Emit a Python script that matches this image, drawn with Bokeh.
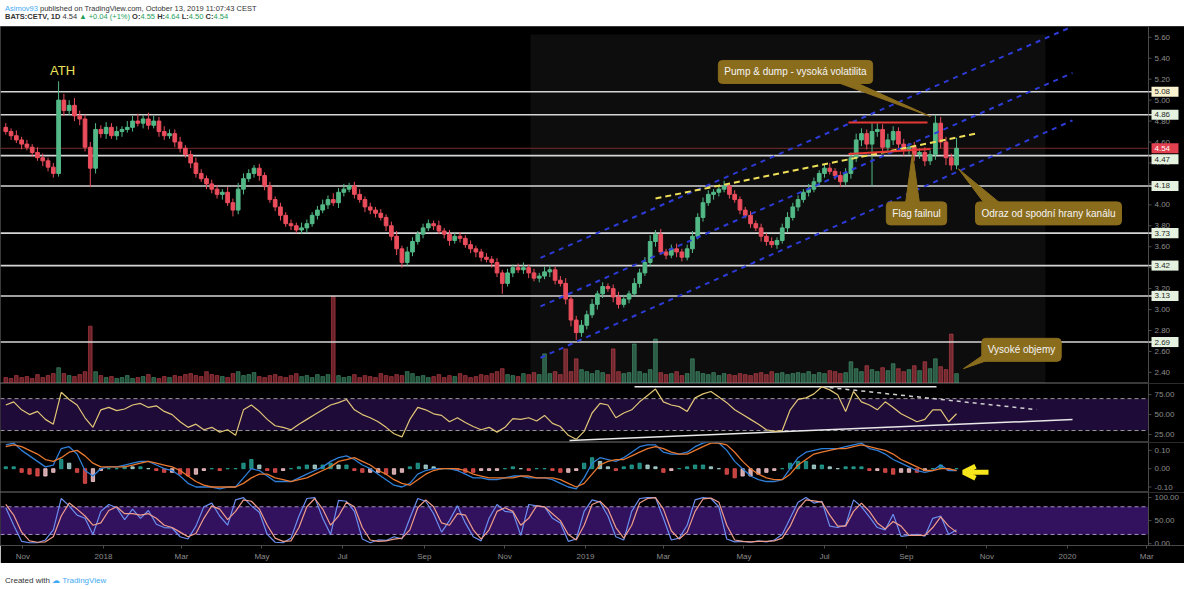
import numpy as np
import pandas as pd
from bokeh.plotting import figure
from bokeh.layouts import column
from bokeh.models import (Range1d, FixedTicker, BoxAnnotation, Label, Arrow, OpenHead, Div,
                          ColumnDataSource)
from bokeh.core.properties import value
from bokeh.embed import file_html
from bokeh.resources import INLINE

# ---------------- data ----------------
PRICE_START = "2017-10-19"   # candles every 4 calendar days
FIRST_OPEN = 4.74
CLOSE = [4.70,4.66,4.62,4.58,4.55,4.50,4.45,4.42,4.36,4.30,
         5.00,4.90,4.95,4.85,4.82,4.55,4.35,4.72,4.68,4.74,
         4.66,4.70,4.72,4.74,4.80,4.78,4.82,4.76,4.80,4.70,
         4.66,4.68,4.60,4.54,4.48,4.40,4.30,4.25,4.20,4.15,
         4.10,4.12,4.02,3.95,4.15,4.25,4.30,4.35,4.28,4.18,
         4.05,3.98,3.90,3.82,3.80,3.76,3.78,3.82,3.90,3.95,
         4.00,4.05,4.02,4.12,4.15,4.18,4.10,4.05,3.98,3.95,
         3.92,3.88,3.80,3.70,3.58,3.45,3.55,3.65,3.72,3.78,
         3.82,3.80,3.75,3.72,3.66,3.70,3.68,3.62,3.58,3.55,
         3.50,3.48,3.45,3.35,3.25,3.35,3.40,3.38,3.40,3.35,
         3.30,3.32,3.36,3.38,3.28,3.25,3.10,2.90,2.78,2.85,
         2.95,3.05,3.15,3.22,3.20,3.12,3.05,3.10,3.15,3.25,
         3.35,3.45,3.65,3.72,3.55,3.52,3.58,3.55,3.50,3.58,
         3.70,3.88,4.02,4.10,4.12,4.15,4.18,4.10,4.05,3.95,
         3.90,3.82,3.78,3.70,3.65,3.62,3.66,3.78,3.88,3.98,
         4.05,4.12,4.15,4.22,4.30,4.35,4.32,4.28,4.22,4.30,
         4.45,4.62,4.68,4.58,4.70,4.72,4.55,4.62,4.70,4.58,
         4.52,4.55,4.48,4.50,4.42,4.48,4.78,4.60,4.45,4.38,
         4.54]
WICK_HI = [4,3,5,3,4,3,5,4,3,4, 18,6,5,7,5,4,5,6,4,5, 4,5,3,6,5,7,4,6,5,4,
           5,4,4,5,3,4,5,4,3,4, 4,3,5,4,6,5,4,3,4,3, 4,3,4,3,4,3,5,4,3,4,
           5,4,6,4,5,3,4,5,3,4, 3,4,3,4,5,3,5,4,3,4, 4,3,5,3,4,3,4,3,4,3,
           3,4,3,4,3,4,3,4,5,3, 4,3,5,4,3,4,5,3,4,5, 4,5,3,4,3,4,5,4,3,5,
           4,5,6,4,5,3,4,5,3,4, 5,4,5,4,3,4,5,3,4,3, 3,4,3,4,3,4,3,4,5,4,
           4,3,5,4,3,4,5,3,4,5, 5,6,5,4,8,6,5,6,5,4, 5,4,5,4,5,4,8,6,5,4,
           10]
WICK_LO = [3,4,3,5,3,4,3,5,4,4, 3,5,4,5,6,4,18,5,4,5, 3,4,5,3,4,3,5,4,3,5,
           4,3,5,4,3,5,4,3,5,4, 4,5,3,6,4,5,3,4,5,4, 3,4,5,3,4,3,4,5,3,4,
           3,4,3,5,4,3,4,3,5,4, 4,3,5,4,6,5,3,4,3,4, 3,4,3,4,5,3,4,3,4,5,
           4,3,5,4,10,3,4,3,4,5, 3,4,3,5,4,3,5,6,7,4, 4,3,5,4,3,5,4,3,4,3,
           4,3,4,5,3,4,3,5,4,3, 4,3,4,3,5,4,3,4,3,4, 3,4,3,5,4,3,4,3,4,3,
           4,3,4,3,5,4,3,4,5,3, 5,4,6,5,40,5,4,6,5,4, 5,4,6,4,5,4,5,6,7,5,
           4]
VOLUME = [6,5,8,6,7,5,9,6,8,10, 16,10,8,7,9,12,58,12,8,6, 7,5,6,8,5,6,7,9,6,5,
          7,6,8,7,9,10,8,7,12,9, 8,7,6,10,12,8,9,11,7,6, 8,9,7,6,8,10,7,8,6,9,
          7,9,88,8,6,7,9,6,8,7, 6,10,8,7,9,8,12,10,7,8, 6,7,9,6,8,7,10,8,6,7,
          9,8,10,12,15,9,8,7,10,9, 11,9,30,10,12,9,35,12,25,14, 12,10,13,11,9,35,12,10,11,40,
          12,10,14,45,11,9,10,12,8,10, 25,12,10,9,11,8,10,9,8,10, 9,8,10,11,9,12,10,11,9,10,
          11,10,12,9,11,10,13,12,10,11, 22,15,12,18,14,12,16,13,20,15, 12,14,18,13,22,15,25,17,14,50,
          10]

IND_START = "2017-10-19"     # indicator samples every 6 calendar days
RSI = [62,66,56,50,54,44,38,78,69,62, 46,34,56,59,55,57,62,64,59,61,
       54,50,41,34,38,31,34,28,31,24, 56,62,54,44,36,34,31,38,44,50,
       56,62,65,69,56,50,46,41,34,26, 22,44,59,56,51,49,41,46,40,35,
       31,34,28,34,45,44,46,42,49,39, 35,24,19,29,52,64,62,46,52,56,
       66,74,82,66,62,60,54,71,76,79, 72,65,56,50,44,38,31,29,30,56,
       69,71,76,85,81,75,54,79,66,62, 56,66,59,51,46,41,44,56,56,41,
       51]
MACD = [.13,.14,.10,.07,.04,.01,.02,.11,.12,.08, -.01,-.04,0,.01,.01,.02,.03,.04,.04,.02,
        0,-.01,-.04,-.08,-.10,-.10,-.10,-.11,-.10,-.10, -.05,0,-.01,-.04,-.07,-.07,-.07,-.05,-.03,-.01,
        .01,.04,.06,.07,.05,.02,0,-.03,-.06,-.09, -.10,-.08,-.03,-.01,0,0,0,-.01,-.03,-.05,
        -.05,-.06,-.06,-.05,-.04,-.04,-.05,-.05,-.05,-.06, -.08,-.10,-.11,-.05,.03,.06,.05,.04,.06,.09,
        .12,.13,.13,.09,.08,.08,.09,.12,.14,.15, .14,.10,.04,0,-.04,-.06,-.07,-.07,-.06,0,
        .06,.09,.10,.11,.11,.11,.12,.13,.14,.11, .10,.08,.05,.03,.01,-.01,-.02,-.01,.02,-.01,
        -.01]
SIGNAL = [.12,.13,.12,.10,.08,.05,.04,.06,.09,.10, .07,.03,.01,.01,.01,.01,.02,.03,.04,.03,
          .02,.01,-.01,-.04,-.07,-.09,-.10,-.10,-.10,-.10, -.08,-.05,-.03,-.03,-.05,-.06,-.07,-.06,-.05,-.03,
          -.01,.01,.04,.05,.06,.04,.02,-.01,-.03,-.06, -.08,-.09,-.06,-.03,-.01,0,0,0,-.01,-.03,
          -.04,-.05,-.05,-.05,-.05,-.04,-.04,-.05,-.05,-.05, -.06,-.08,-.10,-.08,-.03,.02,.04,.05,.05,.07,
          .09,.11,.12,.11,.09,.08,.08,.10,.12,.14, .14,.13,.09,.04,0,-.03,-.05,-.06,-.06,-.03,
          .02,.05,.08,.09,.10,.11,.11,.12,.13,.12, .11,.10,.08,.05,.03,.01,-.01,-.01,0,0,
          -.01]
STOCH_K = [78,40,5,2,2,8,30,98,82,62, 55,20,70,85,78,52,75,55,72,42,
           35,34,15,10,38,80,88,60,40,95, 100,82,68,20,3,2,12,60,98,100,
           55,20,94,92,70,10,2,8,7,15, 10,55,98,92,65,25,50,82,45,15,
           6,55,85,70,68,18,85,82,80,55, 45,5,10,70,95,90,60,15,8,70,
           98,100,100,55,8,12,40,95,100,98, 80,10,4,5,3,6,4,8,20,55,
           90,100,88,92,38,35,40,95,80,58, 35,30,64,16,18,20,16,55,60,20,
           30]
STOCH_D = [85,62,25,6,3,4,15,60,88,75, 60,40,45,72,80,65,65,62,65,55,
           40,35,25,15,22,55,82,75,52,70, 95,92,75,40,12,5,6,35,80,98,
           75,40,60,90,80,35,8,5,6,10, 12,30,78,95,80,45,40,65,62,30,
           10,30,70,78,70,40,55,82,80,65, 50,20,8,40,85,92,75,35,12,40,
           88,98,100,75,28,10,25,70,97,99, 90,40,8,5,4,5,5,6,12,38,
           75,95,93,90,62,38,38,70,88,70, 45,32,48,38,18,18,18,35,58,38,
           25]

LEVELS = [5.08, 4.86, 4.47, 4.18, 3.73, 3.42, 3.13, 2.69]
LAST_PRICE = 4.54
PRICE_TICKS = [2.4, 2.6, 2.8, 3.0, 3.2, 3.4, 3.6, 3.8, 4.0, 4.2, 4.4, 4.6, 4.8, 5.0, 5.2, 5.4, 5.6]
RSI_TICKS = [25, 50, 75]
MACD_TICKS = [-0.1, 0.0, 0.1]
STOCH_TICKS = [0, 50, 100]
X_TICK_DATES = ["2017-11-01", "2018-01-01", "2018-03-01", "2018-05-01", "2018-07-01", "2018-09-01",
                "2018-11-01", "2019-01-01", "2019-03-01", "2019-05-01", "2019-07-01", "2019-09-01",
                "2019-11-01", "2020-01-01", "2020-03-01"]
X_TICK_LABELS = ["Nov", "2018", "Mar", "May", "Jul", "Sep", "Nov", "2019", "Mar", "May", "Jul", "Sep",
                 "Nov", "2020", "Mar"]

# ---------------- layout constants ----------------
BG = "#000000"
W = 1184
SCALE_W = 36
PX_PER_DAY = 1.3205
DAY_MS = 86400000.0
X0 = pd.Timestamp("2017-10-15")
UP, DOWN = "#53b987", "#eb4d5c"
GOLD = "#8a6c1d"
FONT = "Liberation Sans"
AX_COL = "#4a4a4a"
LAB_COL = "#8c8c8c"


def ms(t):
    return pd.Timestamp(t).value / 1e6


def px(n):  # a horizontal distance in pixels, as ms
    return n / PX_PER_DAY * DAY_MS


def rx(p):  # reference-pixel x -> time (ms)
    return ms(X0) + px(p)


def rp(py):  # reference-pixel y -> price
    return 5.08 - (py - 88) / 105.9


def rr(py):  # reference-pixel y -> RSI
    return 75 - (py - 395) / 0.8


XS = ms(X0)
XA = XS + px(W - SCALE_W)   # where each pane's value scale starts
XE = XS + px(W)
xr = Range1d(XS, XE)


def make_fig(height, ylo, yhi, bottom_axis=False):
    f = figure(width=W, height=height, toolbar_location=None, output_backend="svg",
               x_axis_type="datetime", background_fill_color=BG, border_fill_color=BG,
               min_border_left=0, min_border_right=0, min_border_top=0, min_border_bottom=0,
               outline_line_color="#3a3a3a", x_axis_location="below" if bottom_axis else None,
               y_axis_location=None, x_range=xr, y_range=Range1d(ylo, yhi))
    f.grid.visible = False
    return f


def add_scale(f, ticks, labels, ylo, yhi):
    f.quad(left=XA, right=XE, bottom=ylo, top=yhi, fill_color=BG, line_color=None)
    f.segment(x0=XA, x1=XA, y0=ylo, y1=yhi, line_color=AX_COL, line_width=1)
    f.segment(x0=XA, x1=XA + px(3), y0=ticks, y1=ticks, line_color=AX_COL, line_width=1)
    f.text(x=XA + px(6), y=ticks, text=labels, text_align="left", text_baseline="middle",
           text_color=LAB_COL, text_font_size="8px", text_font=value(FONT))


def hline(f, y, color, width=1.0, dash="solid"):
    f.segment(x0=XS, x1=XA, y0=y, y1=y, line_color=color, line_width=width, line_dash=dash)


# ---------------- price pane ----------------
pdates = pd.date_range(PRICE_START, periods=len(CLOSE), freq="4D")
opens = [FIRST_OPEN] + CLOSE[:-1]
close = np.array(CLOSE)
opn = np.array(opens)
hi = np.maximum(opn, close) + np.array(WICK_HI) / 100.0
lo = np.minimum(opn, close) - np.array(WICK_LO) / 100.0
cols = [UP if c >= o else DOWN for o, c in zip(opn, close)]
src = ColumnDataSource(dict(x=[ms(d) for d in pdates], top=np.maximum(opn, close),
                            bottom=np.minimum(opn, close), hi=hi, lo=lo, color=cols,
                            vol=VOLUME))

P_LO, P_HI = 2.294, 5.703
pp = make_fig(357, P_LO, P_HI)
pp.extra_y_ranges = {"vol": Range1d(0, 361)}
pp.add_layout(BoxAnnotation(left=rx(530), right=rx(1045), bottom=rp(383), top=rp(30),
                            fill_color="white", fill_alpha=0.05, line_color=None, level="underlay"))
pp.vbar(x="x", top="vol", width=2.8 * DAY_MS, color="color", alpha=0.45, y_range_name="vol", source=src)

hline(pp, LEVELS, "#d6d6d6", 1.6)
hline(pp, LAST_PRICE, "#7a2c2c", 1.0)

pp.segment(x0="x", y0="lo", x1="x", y1="hi", color="color", line_width=1, source=src)
pp.vbar(x="x", width=2.8 * DAY_MS, top="top", bottom="bottom", fill_color="color",
        line_color="color", source=src)

# channel and drawings
for (xa, ya, xb, yb) in [(540, 256, 1072, 22), (540, 305, 1072, 69), (540, 357, 1072, 117)]:
    pp.line([rx(xa), rx(xb)], [rp(ya), rp(yb)], line_color="#2d3bd6", line_width=2, line_dash="5 5")
pp.line([rx(655), rx(977)], [rp(196), rp(130)], line_color="#efe05a", line_width=2, line_dash="6 4")
pp.line([rx(848), rx(927)], [rp(119), rp(119)], line_color="#e53935", line_width=2)
pp.line([rx(848), rx(930)], [rp(151), rp(146)], line_color="#e53935", line_width=2)

# callouts
CALLOUTS = [("Pump & dump - vysoká volatilita", 795, 68, [(838, 79), (856, 79), (930, 113)]),
            ("Flag failnul", 916, 211, [(905, 201), (919, 201), (912, 150)]),
            ("Odraz od spodní hrany kanálu", 1048, 211, [(984, 201), (1000, 201), (958, 166)]),
            ("Vysoké objemy", 1021, 349, [(986, 352), (986, 360), (963, 368)])]
for txt, cx, cy, tri in CALLOUTS:
    pp.patch([rx(a) for a, b in tri], [rp(b) for a, b in tri], fill_color=GOLD, line_color=GOLD)
    pp.add_layout(Label(x=rx(cx), y=rp(cy), text=txt, text_align="center", text_baseline="middle",
                        text_color="#f4f4f4", text_font_size="10px", text_font=FONT,
                        background_fill_color=GOLD, border_line_color=GOLD, padding=6,
                        border_radius=4))
pp.add_layout(Label(x=rx(62), y=rp(67), text="ATH", text_align="center", text_baseline="middle",
                    text_color="#eee45a", text_font_size="13px", text_font=FONT))

# price scale with level tags
add_scale(pp, PRICE_TICKS, [f"{t:.2f}" for t in PRICE_TICKS], P_LO, P_HI)
box_y = [lv if lv != 4.47 else 4.435 for lv in LEVELS]
box_fill = ["#fbf2cf" if lv == 5.08 else "#e4f2df" for lv in LEVELS]
pp.segment(x0=XA, x1=XA + px(4), y0=LEVELS, y1=LEVELS, line_color="#d6d6d6", line_width=1.6)
pp.quad(left=XA + px(3), right=XA + px(30), bottom=[y - 0.048 for y in box_y],
        top=[y + 0.048 for y in box_y], fill_color=box_fill, line_color=None)
pp.text(x=XA + px(6), y=box_y, text=[f"{lv:.2f}" for lv in LEVELS], text_align="left",
        text_baseline="middle", text_color="#2a2a2a", text_font_size="8px", text_font=value(FONT))
pp.quad(left=XA + px(3), right=XA + px(30), bottom=LAST_PRICE - 0.048, top=LAST_PRICE + 0.048,
        fill_color="#e2414f", line_color=None)
pp.text(x=XA + px(6), y=LAST_PRICE, text=[f"{LAST_PRICE:.2f}"], text_align="left",
        text_baseline="middle", text_color="#ffffff", text_font_size="8px", text_font=value(FONT))

# ---------------- indicator panes ----------------
idates = [ms(d) for d in pd.date_range(IND_START, periods=len(RSI), freq="6D")]

R_LO, R_HI = 15, 89
pr = make_fig(59, R_LO, R_HI)
pr.add_layout(BoxAnnotation(left=XS, right=XA, bottom=30, top=70, fill_color="#1e0b37", fill_alpha=1,
                            line_color=None, level="underlay"))
hline(pr, [30, 70], "#9a9a9a", 1, "4 3")
pr.line([rx(634), rx(936)], [rr(387), rr(387)], line_color="#e8e8e8", line_width=1.5)
pr.line([rx(569), rx(1072)], [rr(441), rr(420)], line_color="#e8e8e8", line_width=1.5)
pr.line([rx(821), rx(1036)], [rr(387), rr(410)], line_color="#d0d0d0", line_width=1.5,
        line_dash="4 4")
pr.line(idates, RSI, line_color="#e2c677", line_width=1.2)
add_scale(pr, RSI_TICKS, [f"{t:.2f}" for t in RSI_TICKS], R_LO, R_HI)

M_LO, M_HI = -0.13, 0.143
pm = make_fig(50, M_LO, M_HI)
macd = np.array(MACD)
sig = np.array(SIGNAL)
hist = macd - sig
prev = np.concatenate([[0.0], hist[:-1]])
hcol = [("#26a69a" if h >= pv else "#b2dfdb") if h >= 0 else ("#ef5350" if h < pv else "#ffcdd2")
        for h, pv in zip(hist, prev)]
pm.vbar(x=idates, top=hist, bottom=0, width=2.5 * DAY_MS, color=hcol, alpha=0.8)
pm.line(idates, MACD, line_color="#2f7fd8", line_width=1.3)
pm.line(idates, SIGNAL, line_color="#e8772f", line_width=1.3)
Y = "#f7e51c"
pm.add_layout(Arrow(end=OpenHead(line_color=Y, line_width=5, size=12), x_start=rx(988),
                    y_start=-0.02, x_end=rx(963), y_end=-0.02, line_color=Y, line_width=5))
add_scale(pm, MACD_TICKS, [f"{t:.2f}" for t in MACD_TICKS], M_LO, M_HI)

S_LO, S_HI = -4, 111
ps = make_fig(71, S_LO, S_HI, bottom_axis=True)
ax = ps.xaxis[0]
ax.axis_line_color = AX_COL
ax.major_tick_line_color = AX_COL
ax.minor_tick_line_color = None
ax.major_tick_out = 3
ax.major_tick_in = 0
ax.major_label_text_color = LAB_COL
ax.major_label_text_font_size = "8px"
ax.major_label_text_font = FONT
ax.major_label_standoff = 3
ax.ticker = FixedTicker(ticks=[ms(d) for d in X_TICK_DATES])
ax.major_label_overrides = {ms(d): lab for d, lab in zip(X_TICK_DATES, X_TICK_LABELS)}
ps.add_layout(BoxAnnotation(left=XS, right=XA, bottom=20, top=80, fill_color="#32125e", fill_alpha=1,
                            line_color=None, level="underlay"))
hline(ps, [20, 80], "#a58fc8", 1, "4 3")
ps.line(idates, STOCH_K, line_color="#6b8ff0", line_width=1.2)
ps.line(idates, STOCH_D, line_color="#f09e8a", line_width=1.2)
add_scale(ps, STOCH_TICKS, [f"{t:.2f}" for t in STOCH_TICKS], S_LO, S_HI)

header = Div(width=W, height=16, text=(
    "<div style=\"font-family:'Liberation Sans',Arial,sans-serif;font-size:7.5px;line-height:8px;color:#333;\">"
    "<span style='color:#3fa9f5'>Asimov93</span> published on TradingView.com, October 13, 2019 11:07:43 CEST<br>"
    "<b>BATS:CETV, 1D</b> 4.54 <span style='color:#1e9e5a'>&#9650; +0.04 (+1%)</span> "
    "<b>O:</b><span style='color:#1e9e5a'>4.55</span> <b>H:</b><span style='color:#1e9e5a'>4.64</span> "
    "<b>L:</b><span style='color:#1e9e5a'>4.50</span> <b>C:</b><span style='color:#1e9e5a'>4.54</span></div>"))
footer = Div(width=W, height=18, text=(
    "<div style=\"font-family:'Liberation Sans',Arial,sans-serif;font-size:8px;color:#333;padding-top:7px;\">"
    "Created with <span style='color:#3fa9f5'>&#9729; TradingView</span></div>"))

layout = column(header, pp, pr, pm, ps, footer, spacing=0)
open("out.html", "w").write(file_html(layout, INLINE))
